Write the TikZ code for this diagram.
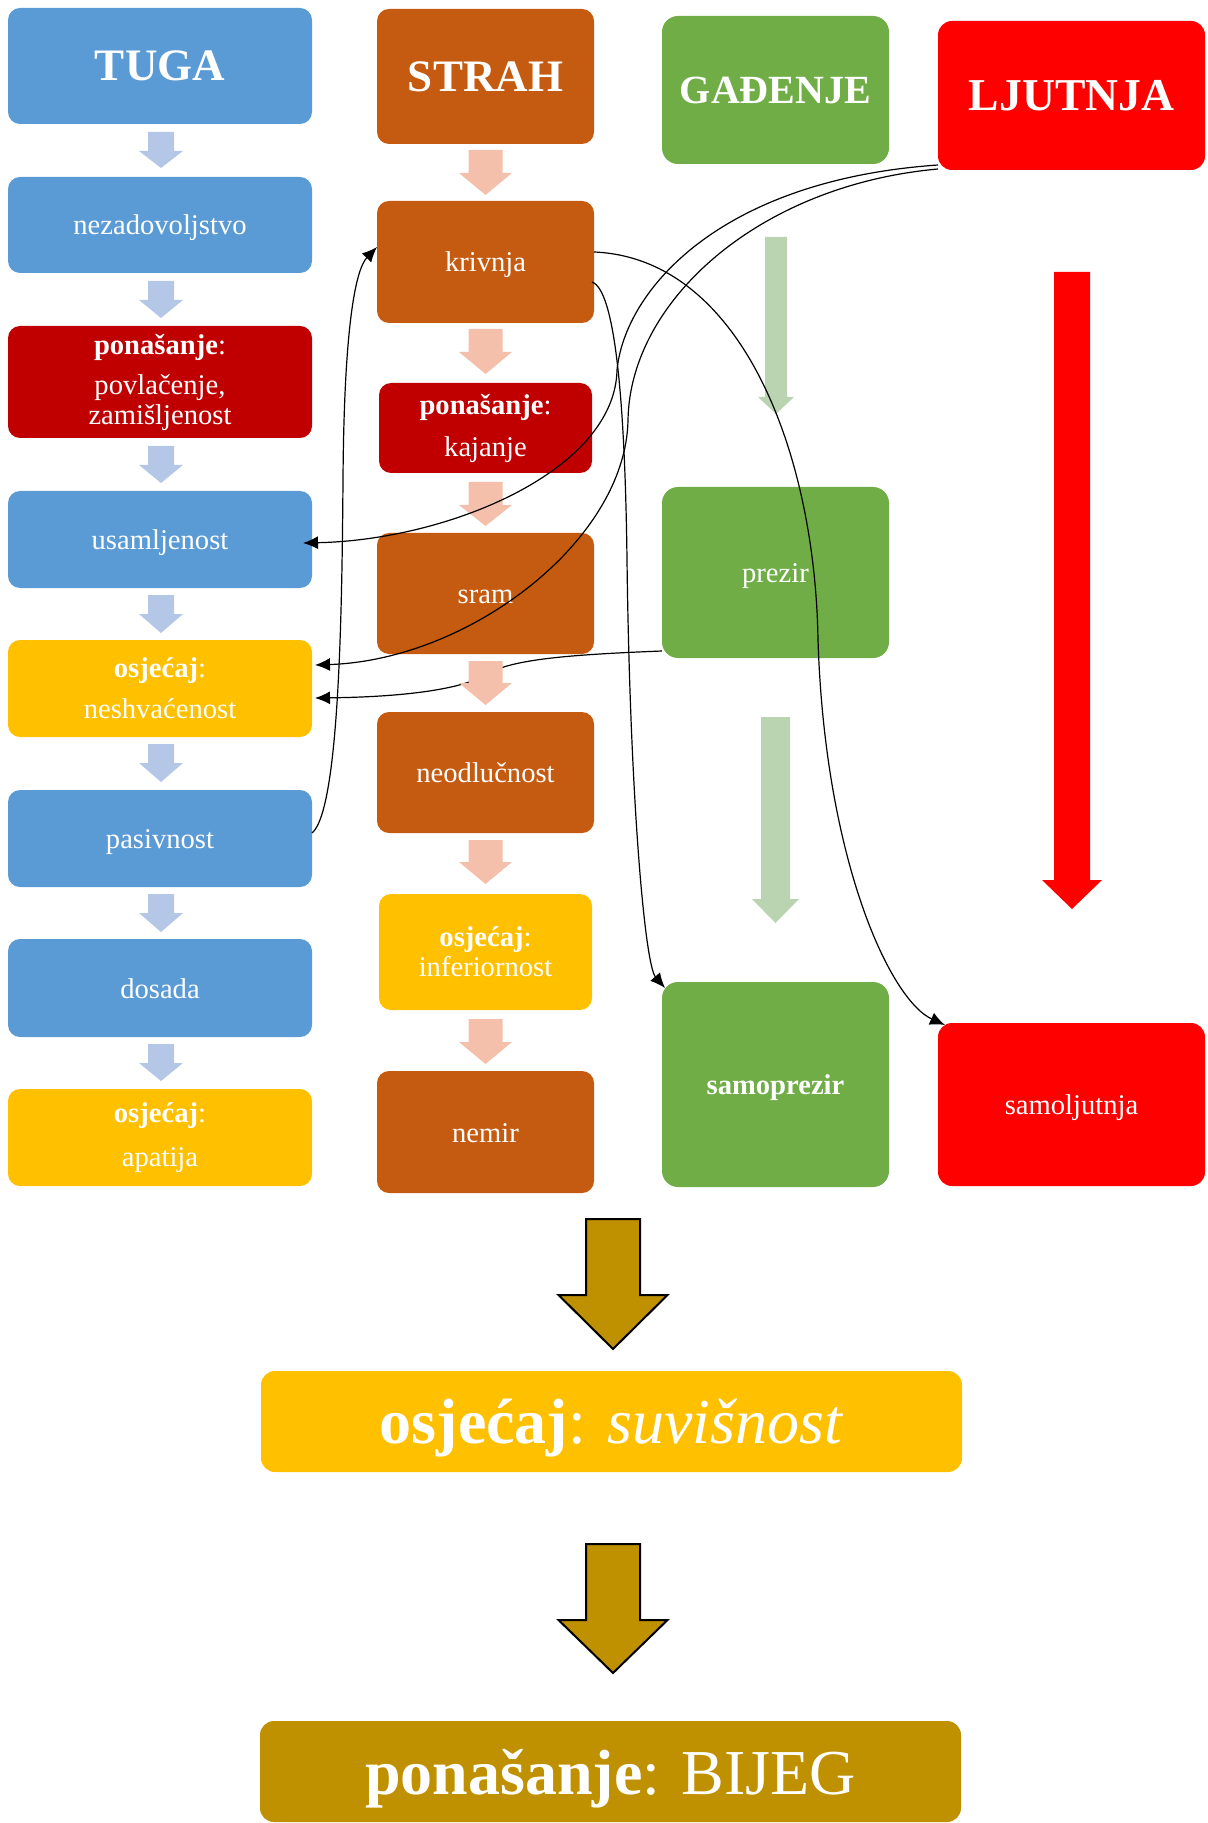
\documentclass[tikz,border=0pt]{standalone}
\usepackage{fontspec}
\setmainfont{Liberation Serif}
\usetikzlibrary{arrows.meta}
\definecolor{cblue}{HTML}{5B9BD5}
\definecolor{cblueL}{HTML}{B4C7E7}
\definecolor{corange}{HTML}{C55A11}
\definecolor{corangeL}{HTML}{F4C0AC}
\definecolor{cdred}{HTML}{C00000}
\definecolor{cyellow}{HTML}{FFC000}
\definecolor{cgreen}{HTML}{70AD47}
\definecolor{cgreenL}{HTML}{BAD3B1}
\definecolor{cred}{HTML}{FF0000}
\definecolor{cgold}{HTML}{BF9000}
\newcommand\normsz{\fontsize{14.3pt}{15pt}\selectfont}
\newcommand\ttlsz{\fontsize{22.5pt}{24pt}\selectfont}
\newcommand\bigsz{\fontsize{32pt}{34pt}\selectfont}
\newcommand\myBArrow[7]{\fill[#7] (#1-#5,#2) -- (#1+#5,#2) -- (#1+#5,#3) -- (#1+#6,#3) -- (#1,#4) -- (#1-#6,#3) -- (#1-#5,#3) -- cycle;}
\tikzset{
  bx/.style={inner sep=0pt, outer sep=0pt, rounded corners=6pt, text=white, align=center, font=\normsz},
  gbx/.style={bx, rounded corners=8pt, fill=cgreen},
  oneline/.style={text height=13pt, text depth=3pt},
  bxc/.style n args={4}{at={({(#1+#3)/2},{(#2+#4)/2})}, anchor=center, minimum width={(#3-#1)/2}, minimum height={(#4-#2)/2}},
  conn/.style={black, line width=0.6pt, -{Latex[length=7.5pt,width=6.5pt]}}
}
\begin{document}
\begin{tikzpicture}[x=0.5pt,y=-0.5pt]
\useasboundingbox (0,0) rectangle (1208,1823);
% column 1
\node[bx, fill=cblue, bxc={8}{8}{312}{124}] (tuga) {\ttlsz\textbf{TUGA}};
\node[bx, oneline, fill=cblue, bxc={8}{177}{312}{273}] (nez) {nezadovoljstvo};
\node[bx, fill=cdred, bxc={8}{326}{312}{438}] (pon1) {\textbf{ponašanje}:\\[5pt]povlačenje,\\zamišljenost};
\node[bx, oneline, fill=cblue, bxc={8}{491}{312}{588}] (usam) {usamljenost};
\node[bx, fill=cyellow, bxc={8}{640}{312}{737}] (nesh) {\textbf{osjećaj}:\\[5.5pt]neshvaćenost};
\node[bx, oneline, fill=cblue, bxc={8}{790}{312}{887}] (pasiv) {pasivnost};
\node[bx, oneline, fill=cblue, bxc={8}{939}{312}{1037}] (dosada) {dosada};
\node[bx, fill=cyellow, bxc={8}{1089}{312}{1186}] (apat) {\textbf{osjećaj}:\\[7pt]apatija};
% column 2
\node[bx, fill=corange, bxc={377}{9}{594}{144}] (strah) {\ttlsz\textbf{STRAH}};
\node[bx, oneline, fill=corange, bxc={377}{201}{594}{323}] (kriv) {krivnja};
\node[bx, fill=cdred, bxc={379}{383}{592}{473}] (kaj) {\textbf{ponašanje}:\\[6pt]kajanje};
\node[bx, oneline, fill=corange, bxc={377}{533}{594}{654}] (sram) {sram};
\node[bx, oneline, fill=corange, bxc={377}{712}{594}{833}] (neodl) {neodlučnost};
\node[bx, fill=cyellow, bxc={379}{894}{592}{1010}] (infer) {\textbf{osjećaj}:\\inferiornost};
\node[bx, oneline, fill=corange, bxc={377}{1071}{594}{1193}] (nemir) {nemir};
% column 3
\node[gbx, bxc={662}{16}{889}{164}] (gad) {\fontsize{20pt}{22pt}\selectfont\textbf{GAĐENJE}};
\node[gbx, oneline, bxc={662}{487}{889}{658}] (prezir) {prezir};
\node[gbx, oneline, bxc={662}{982}{889}{1187}] (samopr) {\textbf{samoprezir}};
% column 4
\node[bx, rounded corners=7pt, fill=cred, bxc={938}{21}{1205}{170}] (ljut) {\fontsize{22.8pt}{24pt}\selectfont\textbf{LJUTNJA}};
\node[bx, oneline, rounded corners=7pt, fill=cred, bxc={938}{1023}{1205}{1186}] (samolj) {samoljutnja};
% bottom
\node[bx, rounded corners=7pt, fill=cyellow, text height=29pt, text depth=7pt, bxc={261}{1371}{962}{1472}] (suv) {\bigsz\textbf{osjećaj}: \textit{suvišnost}};
\node[bx, rounded corners=7pt, fill=cgold, text height=30pt, text depth=7pt, bxc={260}{1721}{961}{1822}] (bijeg) {\bigsz\textbf{ponašanje}: BIJEG};
% connector hidden behind arrow
\draw[conn] ([yshift=-39.25pt]prezir.west) .. controls (560,655) and (510,660) .. (485,675) .. controls (460,690) and (400,697) .. ([xshift=1.5pt,yshift=-4.75pt]nesh.east);
% block arrows column 1
\myBArrow{161}{132}{151}{168}{13}{22}{cblueL}
\myBArrow{161}{281}{300}{318}{13}{22}{cblueL}
\myBArrow{161}{446}{465}{483}{13}{22}{cblueL}
\myBArrow{161}{595}{614}{633}{13}{22}{cblueL}
\myBArrow{161}{744}{763}{782}{13}{22}{cblueL}
\myBArrow{161}{894}{913}{932}{13}{22}{cblueL}
\myBArrow{161}{1044}{1063}{1081}{13}{22}{cblueL}
% column 2
\myBArrow{485.5}{150}{173}{195}{17}{26.5}{corangeL}
\myBArrow{485.5}{329}{352}{374}{17}{26.5}{corangeL}
\myBArrow{485.5}{482}{505}{526}{17}{26.5}{corangeL}
\myBArrow{485.5}{661}{683}{705}{17}{26.5}{corangeL}
\myBArrow{485.5}{840}{862}{884}{17}{26.5}{corangeL}
\myBArrow{485.5}{1019}{1042}{1064}{17}{26.5}{corangeL}
% column 3
\myBArrow{776}{237}{397}{414}{11}{18}{cgreenL}
\myBArrow{775.5}{717}{899}{923}{14.5}{23.5}{cgreenL}
% column 4
\myBArrow{1072}{272}{880}{909}{18}{30}{cred}
% bottom
\myBArrow{613}{1219}{1295}{1349}{27}{54.5}{fill=cgold,draw=black,line width=1pt}
\myBArrow{613}{1544}{1620}{1673}{27}{54.5}{fill=cgold,draw=black,line width=1pt}
% connectors
\draw[conn] ([yshift=2.5pt]ljut.south west) .. controls (720,180) and (625,290) .. (617,370) .. controls (615,470) and (450,540) .. ([xshift=-4.5pt,yshift=-1.75pt]usam.east);
\draw[conn] ([yshift=0.5pt]ljut.south west) .. controls (760,185) and (630,300) .. (628,420) .. controls (626,540) and (470,660) .. ([xshift=1.5pt,yshift=11.75pt]nesh.east);
\draw[conn] ([yshift=2.75pt]pasiv.east) .. controls (340,810) and (342,600) .. (343,480) .. controls (344,330) and (355,270) .. ([yshift=7.5pt]kriv.west);
\draw[conn] ([yshift=5pt]kriv.east) .. controls (740,258) and (815,450) .. (818,640) .. controls (825,860) and (890,1000) .. ([xshift=3.5pt,yshift=-1pt]samolj.north west);
\draw[conn] ([xshift=-1pt,yshift=-10pt]kriv.east) .. controls (615,290) and (625,400) .. (627,560) .. controls (630,800) and (645,965) .. ([xshift=1.5pt,yshift=-3pt]samopr.north west);
\end{tikzpicture}
\end{document}
